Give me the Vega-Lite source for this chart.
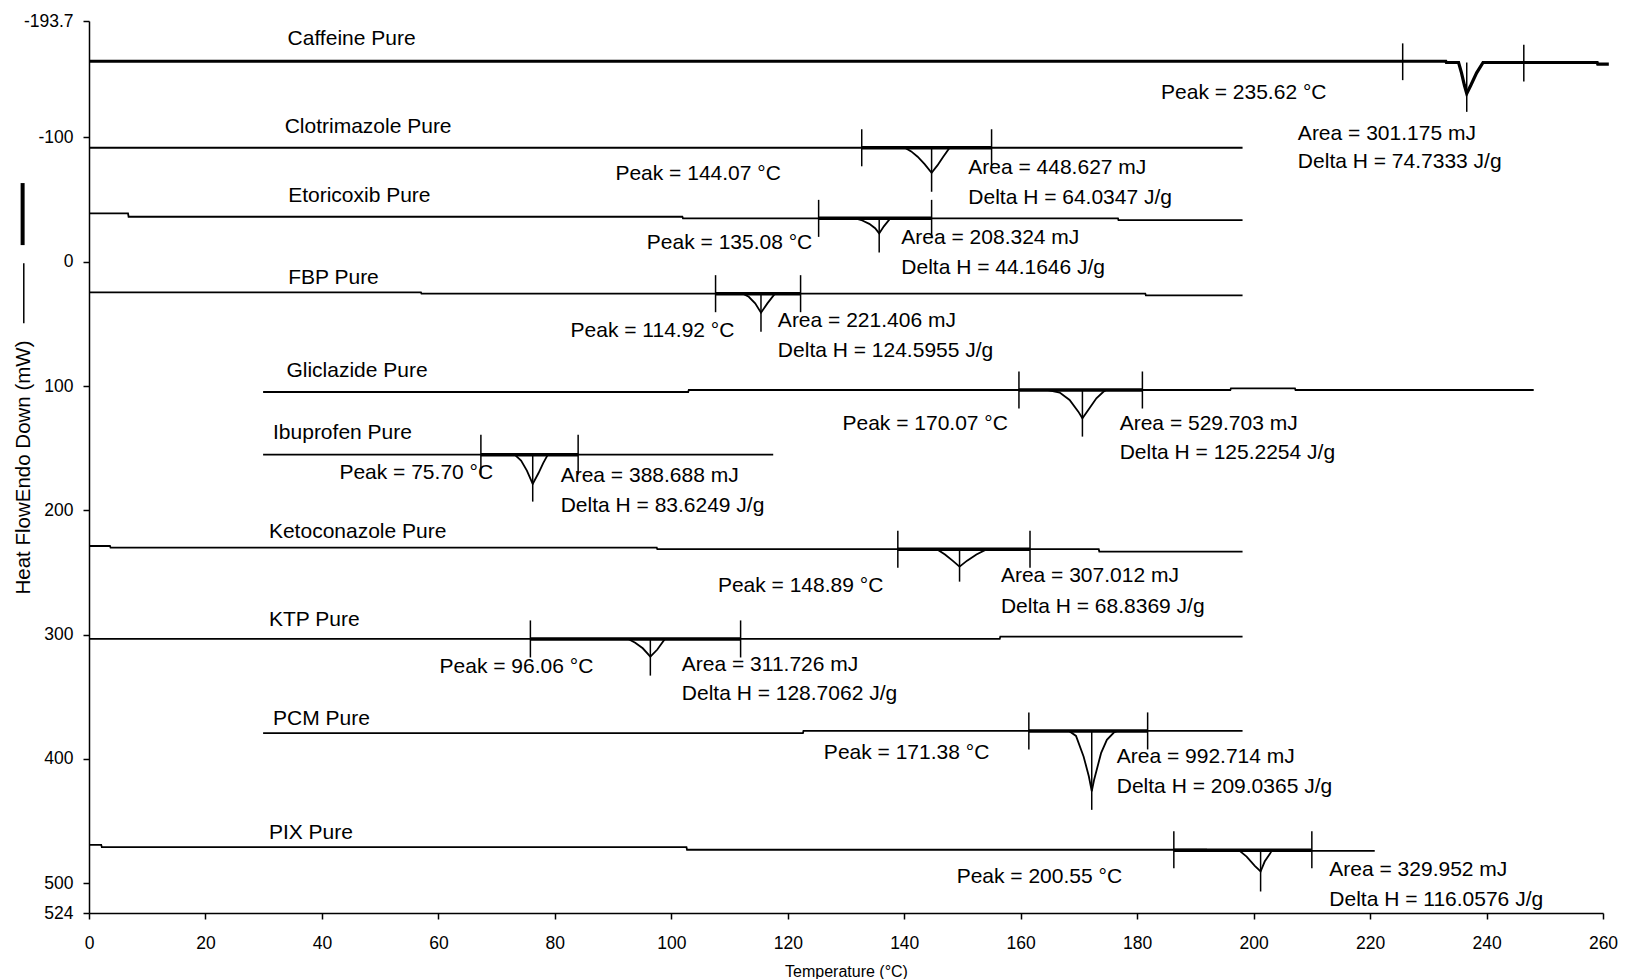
{
  "$schema": "https://vega.github.io/schema/vega-lite/v6.json",
  "width": 1514,
  "height": 892,
  "autosize": {"type": "none"},
  "padding": {"left": 89, "top": 21, "right": 28, "bottom": 66},
  "background": "#ffffff",
  "config": {"view": {"stroke": null}},
  "datasets": {
    "curves": [
      {"s": "Caffeine", "x": 0, "y": -161.3}, {"s": "Caffeine", "x": 233.0, "y": -161.3}, {"s": "Caffeine", "x": 233.1, "y": -160.3}, {"s": "Caffeine", "x": 235.2, "y": -160.3}, {"s": "Caffeine", "x": 235.7, "y": -152}, {"s": "Caffeine", "x": 236.2, "y": -142}, {"s": "Caffeine", "x": 236.6, "y": -135.4}, {"s": "Caffeine", "x": 237.3, "y": -142}, {"s": "Caffeine", "x": 238.3, "y": -152}, {"s": "Caffeine", "x": 239.4, "y": -160.3}, {"s": "Caffeine", "x": 259.0, "y": -160.3}, {"s": "Caffeine", "x": 259.1, "y": -159.0}, {"s": "Caffeine", "x": 261.0, "y": -159.0},
      {"s": "Clotrimazole", "x": 0, "y": -91.7}, {"s": "Clotrimazole", "x": 140.1, "y": -91.7}, {"s": "Clotrimazole", "x": 141.2, "y": -88.8}, {"s": "Clotrimazole", "x": 142.3, "y": -84.5}, {"s": "Clotrimazole", "x": 143.5, "y": -78.5}, {"s": "Clotrimazole", "x": 144.7, "y": -71.6}, {"s": "Clotrimazole", "x": 145.7, "y": -77.5}, {"s": "Clotrimazole", "x": 146.7, "y": -84.5}, {"s": "Clotrimazole", "x": 147.8, "y": -91.7}, {"s": "Clotrimazole", "x": 198.1, "y": -91.7},
      {"s": "Etoricoxib", "x": 0, "y": -38.9}, {"s": "Etoricoxib", "x": 6.7, "y": -38.9}, {"s": "Etoricoxib", "x": 6.8, "y": -36.2}, {"s": "Etoricoxib", "x": 101.9, "y": -36.2}, {"s": "Etoricoxib", "x": 102.0, "y": -34.9}, {"s": "Etoricoxib", "x": 131.6, "y": -34.9}, {"s": "Etoricoxib", "x": 132.8, "y": -33.2}, {"s": "Etoricoxib", "x": 134.0, "y": -30.5}, {"s": "Etoricoxib", "x": 135.0, "y": -27}, {"s": "Etoricoxib", "x": 135.7, "y": -22.8}, {"s": "Etoricoxib", "x": 136.5, "y": -28.5}, {"s": "Etoricoxib", "x": 137.6, "y": -34.9}, {"s": "Etoricoxib", "x": 176.7, "y": -34.9}, {"s": "Etoricoxib", "x": 176.8, "y": -33.5}, {"s": "Etoricoxib", "x": 198.1, "y": -33.5},
      {"s": "FBP", "x": 0, "y": 24.6}, {"s": "FBP", "x": 57.0, "y": 24.6}, {"s": "FBP", "x": 57.1, "y": 25.7}, {"s": "FBP", "x": 112.3, "y": 25.7}, {"s": "FBP", "x": 113.3, "y": 28.2}, {"s": "FBP", "x": 114.4, "y": 33.5}, {"s": "FBP", "x": 115.4, "y": 41.0}, {"s": "FBP", "x": 116.5, "y": 33.5}, {"s": "FBP", "x": 117.8, "y": 25.7}, {"s": "FBP", "x": 181.4, "y": 25.7}, {"s": "FBP", "x": 181.5, "y": 27.0}, {"s": "FBP", "x": 198.1, "y": 27.0},
      {"s": "Gliclazide", "x": 29.9, "y": 104.8}, {"s": "Gliclazide", "x": 102.9, "y": 104.8}, {"s": "Gliclazide", "x": 103.0, "y": 103.2}, {"s": "Gliclazide", "x": 164.7, "y": 103.2}, {"s": "Gliclazide", "x": 166.7, "y": 105.3}, {"s": "Gliclazide", "x": 168.4, "y": 111.2}, {"s": "Gliclazide", "x": 169.9, "y": 120.6}, {"s": "Gliclazide", "x": 170.6, "y": 126.0}, {"s": "Gliclazide", "x": 171.6, "y": 119.3}, {"s": "Gliclazide", "x": 173.0, "y": 109.9}, {"s": "Gliclazide", "x": 174.2, "y": 104.6}, {"s": "Gliclazide", "x": 174.7, "y": 103.2}, {"s": "Gliclazide", "x": 196.0, "y": 103.2}, {"s": "Gliclazide", "x": 196.1, "y": 101.9}, {"s": "Gliclazide", "x": 207.1, "y": 101.9}, {"s": "Gliclazide", "x": 207.2, "y": 103.2}, {"s": "Gliclazide", "x": 248.1, "y": 103.2},
      {"s": "Ibuprofen", "x": 29.9, "y": 155.2}, {"s": "Ibuprofen", "x": 73.1, "y": 155.2}, {"s": "Ibuprofen", "x": 74.2, "y": 160}, {"s": "Ibuprofen", "x": 75.2, "y": 168}, {"s": "Ibuprofen", "x": 76.2, "y": 178.8}, {"s": "Ibuprofen", "x": 77.2, "y": 170}, {"s": "Ibuprofen", "x": 78.0, "y": 162}, {"s": "Ibuprofen", "x": 78.8, "y": 155.2}, {"s": "Ibuprofen", "x": 117.5, "y": 155.2},
      {"s": "Ketoconazole", "x": 0, "y": 228.7}, {"s": "Ketoconazole", "x": 3.6, "y": 228.7}, {"s": "Ketoconazole", "x": 3.7, "y": 230.0}, {"s": "Ketoconazole", "x": 97.5, "y": 230.0}, {"s": "Ketoconazole", "x": 97.6, "y": 231.3}, {"s": "Ketoconazole", "x": 145.6, "y": 231.3}, {"s": "Ketoconazole", "x": 147.0, "y": 235.5}, {"s": "Ketoconazole", "x": 148.3, "y": 240.5}, {"s": "Ketoconazole", "x": 149.5, "y": 245.3}, {"s": "Ketoconazole", "x": 150.8, "y": 240.5}, {"s": "Ketoconazole", "x": 152.4, "y": 235.5}, {"s": "Ketoconazole", "x": 154.2, "y": 231.3}, {"s": "Ketoconazole", "x": 173.4, "y": 231.3}, {"s": "Ketoconazole", "x": 173.5, "y": 233.2}, {"s": "Ketoconazole", "x": 198.1, "y": 233.2},
      {"s": "KTP", "x": 0, "y": 303.5}, {"s": "KTP", "x": 92.6, "y": 303.5}, {"s": "KTP", "x": 93.8, "y": 306.5}, {"s": "KTP", "x": 95.1, "y": 311}, {"s": "KTP", "x": 96.4, "y": 317.7}, {"s": "KTP", "x": 97.6, "y": 312}, {"s": "KTP", "x": 98.9, "y": 303.5}, {"s": "KTP", "x": 156.4, "y": 303.5}, {"s": "KTP", "x": 156.5, "y": 301.6}, {"s": "KTP", "x": 198.1, "y": 301.6},
      {"s": "PCM", "x": 29.9, "y": 379.3}, {"s": "PCM", "x": 122.6, "y": 379.3}, {"s": "PCM", "x": 122.7, "y": 377.5}, {"s": "PCM", "x": 168.3, "y": 377.5}, {"s": "PCM", "x": 169.5, "y": 381.5}, {"s": "PCM", "x": 170.8, "y": 398}, {"s": "PCM", "x": 171.7, "y": 414}, {"s": "PCM", "x": 172.2, "y": 426}, {"s": "PCM", "x": 172.6, "y": 417}, {"s": "PCM", "x": 173.8, "y": 395.4}, {"s": "PCM", "x": 174.8, "y": 384.7}, {"s": "PCM", "x": 176.0, "y": 378.8}, {"s": "PCM", "x": 176.6, "y": 377.5}, {"s": "PCM", "x": 198.1, "y": 377.5},
      {"s": "PIX", "x": 0, "y": 469.2}, {"s": "PIX", "x": 2.1, "y": 469.2}, {"s": "PIX", "x": 2.2, "y": 471.0}, {"s": "PIX", "x": 102.6, "y": 471.0}, {"s": "PIX", "x": 102.7, "y": 473.1}, {"s": "PIX", "x": 191.9, "y": 473.1}, {"s": "PIX", "x": 192.0, "y": 474.0}, {"s": "PIX", "x": 197.6, "y": 474.0}, {"s": "PIX", "x": 198.8, "y": 478.6}, {"s": "PIX", "x": 200.2, "y": 486.0}, {"s": "PIX", "x": 201.2, "y": 490.6}, {"s": "PIX", "x": 201.9, "y": 482.6}, {"s": "PIX", "x": 202.8, "y": 476.4}, {"s": "PIX", "x": 203.1, "y": 474.0}, {"s": "PIX", "x": 220.8, "y": 474.0}
    ],
    "parts": [
      {"s": "Clotrimazole", "x": 132.7, "x2": 155.0, "y": -91.7},
      {"s": "Etoricoxib", "x": 125.3, "x2": 144.7, "y": -34.9},
      {"s": "FBP", "x": 107.6, "x2": 122.2, "y": 25.7},
      {"s": "Gliclazide", "x": 159.7, "x2": 180.9, "y": 103.2},
      {"s": "Ibuprofen", "x": 67.3, "x2": 84.0, "y": 155.2},
      {"s": "Ketoconazole", "x": 138.9, "x2": 161.6, "y": 231.3},
      {"s": "KTP", "x": 75.8, "x2": 111.9, "y": 303.5},
      {"s": "PCM", "x": 161.4, "x2": 181.8, "y": 377.5},
      {"s": "PIX", "x": 186.3, "x2": 210.0, "y": 473.6}
    ],
    "vlines": [
      {"s": "Caffeine", "x": 225.6, "y": -175.7, "y2": -146.1},
      {"s": "Caffeine", "x": 246.4, "y": -174.5, "y2": -145.0},
      {"s": "Caffeine", "x": 236.6, "y": -160.3, "y2": -120.6},
      {"s": "Clotrimazole", "x": 132.7, "y": -106.6, "y2": -76.8},
      {"s": "Clotrimazole", "x": 155.0, "y": -106.6, "y2": -76.8},
      {"s": "Clotrimazole", "x": 144.7, "y": -91.7, "y2": -56.3},
      {"s": "Etoricoxib", "x": 125.3, "y": -49.8, "y2": -20.0},
      {"s": "Etoricoxib", "x": 144.7, "y": -49.8, "y2": -20.0},
      {"s": "Etoricoxib", "x": 135.7, "y": -34.9, "y2": -7.5},
      {"s": "FBP", "x": 107.6, "y": 10.8, "y2": 40.6},
      {"s": "FBP", "x": 122.2, "y": 10.8, "y2": 40.6},
      {"s": "FBP", "x": 115.4, "y": 25.7, "y2": 56.3},
      {"s": "Gliclazide", "x": 159.7, "y": 88.3, "y2": 118.1},
      {"s": "Gliclazide", "x": 180.9, "y": 88.3, "y2": 118.1},
      {"s": "Gliclazide", "x": 170.6, "y": 103.2, "y2": 140.7},
      {"s": "Ibuprofen", "x": 67.3, "y": 139.2, "y2": 171.2},
      {"s": "Ibuprofen", "x": 84.0, "y": 139.2, "y2": 171.2},
      {"s": "Ibuprofen", "x": 76.2, "y": 155.2, "y2": 193.0},
      {"s": "Ketoconazole", "x": 138.9, "y": 216.4, "y2": 246.2},
      {"s": "Ketoconazole", "x": 161.6, "y": 216.4, "y2": 246.2},
      {"s": "Ketoconazole", "x": 149.5, "y": 231.3, "y2": 257.4},
      {"s": "KTP", "x": 75.8, "y": 288.6, "y2": 318.4},
      {"s": "KTP", "x": 111.9, "y": 288.6, "y2": 318.4},
      {"s": "KTP", "x": 96.4, "y": 303.5, "y2": 333.0},
      {"s": "PCM", "x": 161.4, "y": 362.6, "y2": 392.4},
      {"s": "PCM", "x": 181.8, "y": 362.6, "y2": 392.4},
      {"s": "PCM", "x": 172.2, "y": 377.5, "y2": 441.0},
      {"s": "PIX", "x": 186.3, "y": 458.2, "y2": 488.0},
      {"s": "PIX", "x": 210.0, "y": 458.2, "y2": 488.0},
      {"s": "PIX", "x": 201.2, "y": 473.6, "y2": 506.7}
    ],
    "labels": [
      {"t": "Caffeine Pure", "x": 34.1, "y": -179.1},
      {"t": "Clotrimazole Pure", "x": 33.6, "y": -108.1},
      {"t": "Etoricoxib Pure", "x": 34.2, "y": -53.1},
      {"t": "FBP Pure", "x": 34.2, "y": 13.3},
      {"t": "Gliclazide Pure", "x": 33.9, "y": 87.7},
      {"t": "Ibuprofen Pure", "x": 31.6, "y": 137.9},
      {"t": "Ketoconazole Pure", "x": 30.9, "y": 217.7},
      {"t": "KTP Pure", "x": 30.9, "y": 288.0},
      {"t": "PCM Pure", "x": 31.6, "y": 367.8},
      {"t": "PIX Pure", "x": 30.9, "y": 459.6},
      {"t": "Peak = 235.62 °C", "x": 184.1, "y": -135.5},
      {"t": "Area = 301.175 mJ", "x": 207.6, "y": -102.7},
      {"t": "Delta H = 74.7333 J/g", "x": 207.6, "y": -79.9},
      {"t": "Peak = 144.07 °C", "x": 90.4, "y": -70.5},
      {"t": "Area = 448.627 mJ", "x": 151.0, "y": -75.2},
      {"t": "Delta H = 64.0347 J/g", "x": 151.0, "y": -51.1},
      {"t": "Peak = 135.08 °C", "x": 95.8, "y": -14.9},
      {"t": "Area = 208.324 mJ", "x": 139.5, "y": -18.9},
      {"t": "Delta H = 44.1646 J/g", "x": 139.5, "y": 5.2},
      {"t": "Peak = 114.92 °C", "x": 82.7, "y": 55.7},
      {"t": "Area = 221.406 mJ", "x": 118.3, "y": 47.4},
      {"t": "Delta H = 124.5955 J/g", "x": 118.3, "y": 72.2},
      {"t": "Peak = 170.07 °C", "x": 129.4, "y": 130.5},
      {"t": "Area = 529.703 mJ", "x": 177.0, "y": 130.5},
      {"t": "Delta H = 125.2254 J/g", "x": 177.0, "y": 154.0},
      {"t": "Peak = 75.70 °C", "x": 43.0, "y": 170.1},
      {"t": "Area = 388.688 mJ", "x": 81.0, "y": 172.1},
      {"t": "Delta H = 83.6249 J/g", "x": 81.0, "y": 196.2},
      {"t": "Peak = 148.89 °C", "x": 108.0, "y": 260.6},
      {"t": "Area = 307.012 mJ", "x": 156.6, "y": 253.2},
      {"t": "Delta H = 68.8369 J/g", "x": 156.6, "y": 277.4},
      {"t": "Peak = 96.06 °C", "x": 60.2, "y": 326.2},
      {"t": "Area = 311.726 mJ", "x": 101.8, "y": 324.4},
      {"t": "Delta H = 128.7062 J/g", "x": 101.8, "y": 347.9},
      {"t": "Peak = 171.38 °C", "x": 126.2, "y": 395.2},
      {"t": "Area = 992.714 mJ", "x": 176.5, "y": 398.1},
      {"t": "Delta H = 209.0365 J/g", "x": 176.5, "y": 423.0},
      {"t": "Peak = 200.55 °C", "x": 149.0, "y": 495.2},
      {"t": "Area = 329.952 mJ", "x": 213.0, "y": 489.4},
      {"t": "Delta H = 116.0576 J/g", "x": 213.0, "y": 513.9}
    ],
    "decor": [
      {"k": "thick", "x": -11.4, "y": -63.3, "y2": -13.4},
      {"k": "thin", "x": -11.2, "y": 1.2, "y2": 49.5}
    ]
  },
  "encoding": {
    "x": {
      "field": "x", "type": "quantitative",
      "scale": {"domain": [0, 260], "nice": false, "zero": false},
      "axis": {
        "values": [0, 20, 40, 60, 80, 100, 120, 140, 160, 180, 200, 220, 240, 260],
        "title": "Temperature (°C)",
        "titleFont": "Liberation Sans", "titleFontSize": 16, "titleFontWeight": "normal", "titleColor": "#000000",
        "titleY": 50, "titleBaseline": "top",
        "labelFont": "Liberation Sans", "labelFontSize": 17.5, "labelColor": "#000000",
        "labelPadding": 15, "tickSize": 6, "tickColor": "#000000", "tickWidth": 1.5,
        "domainColor": "#000000", "domainWidth": 1.5, "grid": false, "labelFlush": false, "labelOverlap": false
      }
    },
    "y": {
      "field": "y", "type": "quantitative",
      "scale": {"domain": [-193.7, 524], "nice": false, "zero": false, "reverse": true},
      "axis": {
        "values": [-193.7, -100, 0, 100, 200, 300, 400, 500, 524],
        "labelExpr": "toString(datum.value)",
        "title": "Heat FlowEndo Down (mW)",
        "titleFont": "Liberation Sans", "titleFontSize": 20.5, "titleFontWeight": "normal", "titleColor": "#000000",
        "titleX": -59.3, "titleY": 446, "titleAngle": -90, "titleBaseline": "alphabetic", "titleAlign": "center",
        "labelFont": "Liberation Sans", "labelFontSize": 17.5, "labelColor": "#000000",
        "labelPadding": 10, "tickSize": 6, "tickColor": "#000000", "tickWidth": 1.5,
        "domainColor": "#000000", "domainWidth": 1.5, "grid": false, "labelFlush": false, "labelOverlap": false
      }
    }
  },
  "layer": [
    {
      "data": {"name": "decor"},
      "transform": [{"filter": "datum.k == 'thick'"}],
      "mark": {"type": "rule", "color": "#000000", "strokeWidth": 4},
      "encoding": {"y2": {"field": "y2"}}
    },
    {
      "data": {"name": "decor"},
      "transform": [{"filter": "datum.k == 'thin'"}],
      "mark": {"type": "rule", "color": "#000000", "strokeWidth": 1.5},
      "encoding": {"y2": {"field": "y2"}}
    },
    {
      "data": {"name": "curves"},
      "transform": [{"filter": "datum.s != 'Caffeine'"}],
      "mark": {"type": "line", "color": "#000000", "strokeWidth": 1.8},
      "encoding": {"detail": {"field": "s"}}
    },
    {
      "data": {"name": "curves"},
      "transform": [{"filter": "datum.s == 'Caffeine'"}],
      "mark": {"type": "line", "color": "#000000", "strokeWidth": 3.2},
      "encoding": {"detail": {"field": "s"}}
    },
    {
      "data": {"name": "parts"},
      "mark": {"type": "rule", "color": "#000000", "strokeWidth": 3.5},
      "encoding": {"x2": {"field": "x2"}}
    },
    {
      "data": {"name": "vlines"},
      "mark": {"type": "rule", "color": "#000000", "strokeWidth": 1.5},
      "encoding": {"y2": {"field": "y2"}}
    },
    {
      "data": {"name": "labels"},
      "mark": {"type": "text", "align": "left", "baseline": "middle", "font": "Liberation Sans", "fontSize": 21, "color": "#000000"},
      "encoding": {"text": {"field": "t"}}
    }
  ]
}
